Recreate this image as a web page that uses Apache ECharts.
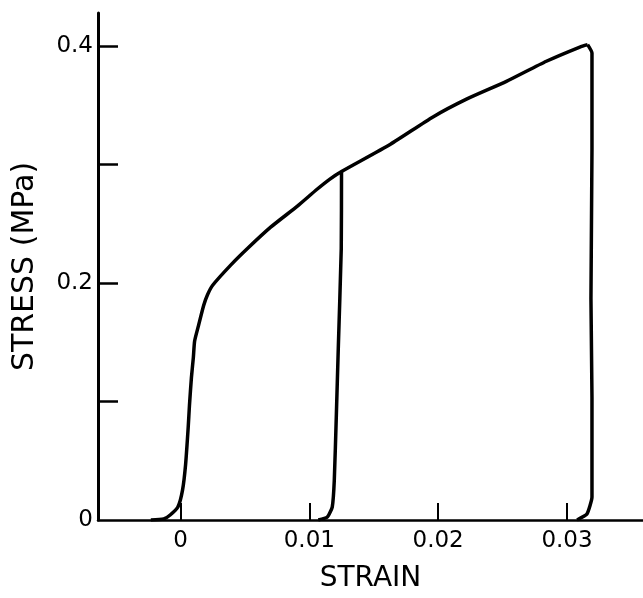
<!DOCTYPE html>
<html>
<head>
<meta charset="utf-8">
<title>Stress vs strain</title>
<script src="https://cdn.jsdelivr.net/npm/echarts@6/dist/echarts.min.js"></script>
<style>
  html, body { margin: 0; padding: 0; background: #fff; }
  #chart { width: 643px; height: 598px; }
</style>
</head>
<body>
<div id="chart"></div>
<script>
// loading envelope (toe, knee, then up to the second peak)
var envStrain = [-0.0023, -0.0013, -0.0008, -0.0002, 0.00016, 0.0004, 0.0006, 0.0007, 0.00085, 0.001, 0.0011,
  0.0014, 0.0018, 0.0021, 0.0025, 0.0039, 0.0052, 0.0070, 0.0091, 0.0106, 0.0116, 0.0125,
  0.0163, 0.0196, 0.0222, 0.0253, 0.0284, 0.0310, 0.0316]
var envStress = [0, 0.0008, 0.0042, 0.0109, 0.0252, 0.047, 0.078, 0.097, 0.12, 0.137, 0.151,
  0.164, 0.181, 0.190, 0.198, 0.215, 0.229, 0.247, 0.265, 0.279, 0.2876, 0.294,
  0.317, 0.340, 0.355, 0.370, 0.387, 0.399, 0.401]

// first unloading (from ~0.29 MPa)
var unload1Strain = [0.0125, 0.01248, 0.01225, 0.0121, 0.01194, 0.01178, 0.0114, 0.0107]
var unload1Stress = [0.294, 0.2289, 0.145, 0.0889, 0.0335, 0.0109, 0.0025, 0]

// second unloading (from ~0.4 MPa)
var unload2Strain = [0.0316, 0.03194, 0.03194, 0.03186, 0.03194, 0.03194, 0.03155, 0.03078]
var unload2Stress = [0.401, 0.394, 0.313, 0.187, 0.103, 0.0193, 0.005, 0]

var xTicks = [0, 0.01, 0.02, 0.03]
var yTicks = [0.1, 0.2, 0.3, 0.4]
var yLabels = [0, 0.2, 0.4]

function zip(a, b) {
  var out = []
  for (var i = 0; i < a.length; i++) {
    out.push([a[i], b[i]])
  }
  return out
}

var font = 'DejaVu Sans'
var ink = '#000'

var chart = echarts.init(document.getElementById('chart'))
chart.setOption({
  animation: false,
  grid: {
    left: 98,
    right: 0,
    top: 13,
    bottom: 75
  },
  xAxis: {
    type: 'value',
    min: -0.0064,
    max: 0.0359,
    name: 'STRAIN',
    nameLocation: 'middle',
    nameGap: 45,
    nameTextStyle: { fontFamily: font, fontSize: 28, color: ink },
    axisLine: { onZero: false, lineStyle: { color: ink, width: 2.5 } },
    axisTick: {
      customValues: xTicks,
      inside: true,
      length: 17,
      lineStyle: { color: ink, width: 2 }
    },
    axisLabel: {
      customValues: xTicks,
      margin: 10,
      fontFamily: font,
      fontSize: 23,
      color: ink
    },
    splitLine: { show: false }
  },
  yAxis: {
    type: 'value',
    min: 0,
    max: 0.4277,
    name: 'STRESS (MPa)',
    nameLocation: 'middle',
    nameGap: 58,
    nameTextStyle: { fontFamily: font, fontSize: 30, color: ink },
    axisLine: { show: true, onZero: false, lineStyle: { color: ink, width: 3 } },
    axisTick: {
      customValues: yTicks,
      inside: true,
      length: 20,
      lineStyle: { color: ink, width: 2.5 }
    },
    axisLabel: {
      customValues: yLabels,
      margin: 5,
      fontFamily: font,
      fontSize: 23,
      color: ink
    },
    splitLine: { show: false }
  },
  series: [
    {
      name: 'envelope',
      type: 'line',
      data: zip(envStrain, envStress),
      showSymbol: false,
      smooth: 0.2,
      lineStyle: { color: ink, width: 3.5 }
    },
    {
      name: 'unload 1',
      type: 'line',
      data: zip(unload1Strain, unload1Stress),
      showSymbol: false,
      smooth: 0.15,
      lineStyle: { color: ink, width: 3.5 }
    },
    {
      name: 'unload 2',
      type: 'line',
      data: zip(unload2Strain, unload2Stress),
      showSymbol: false,
      smooth: 0.15,
      lineStyle: { color: ink, width: 3.5 }
    }
  ]
})
</script>
</body>
</html>
